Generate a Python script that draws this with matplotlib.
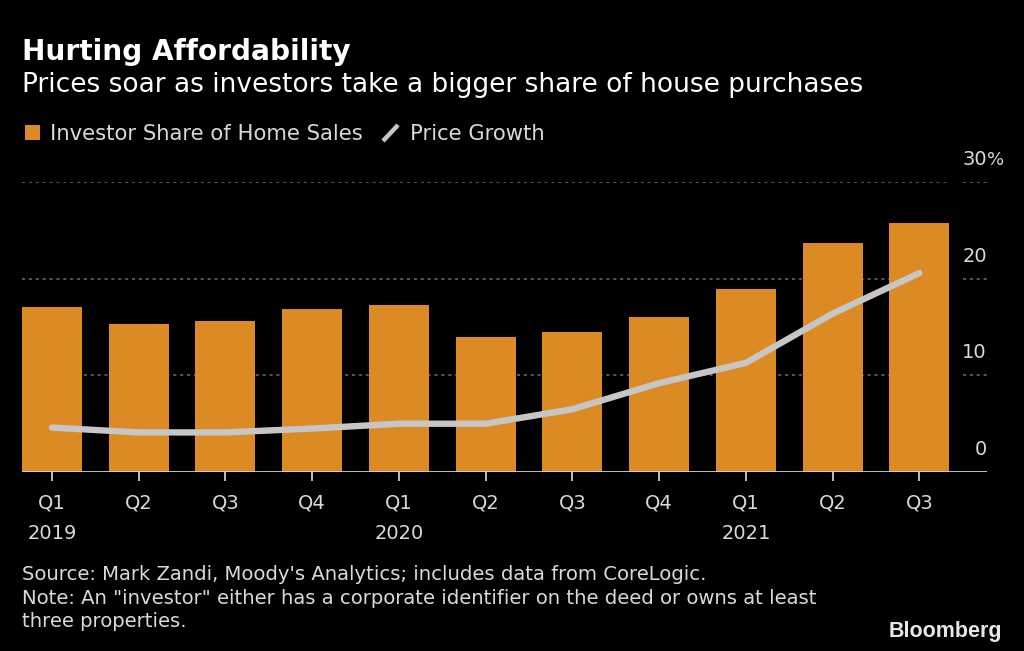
import matplotlib
matplotlib.use("Agg")
import matplotlib.pyplot as plt
from matplotlib.lines import Line2D
from matplotlib.patches import Rectangle

# ---- data ----
quarters = ["Q1", "Q2", "Q3", "Q4", "Q1", "Q2", "Q3", "Q4", "Q1", "Q2", "Q3"]
years = ["2019", "", "", "", "2020", "", "", "", "2021", "", ""]
investor_share = [17.1, 15.3, 15.6, 16.9, 17.3, 14.0, 14.5, 16.0, 18.9, 23.7, 25.8]
price_growth = [4.6, 4.1, 4.1, 4.5, 5.0, 5.0, 6.5, 9.2, 11.3, 16.4, 20.6]
y_ticks = [0, 10, 20, 30]
y_tick_labels = ["0", "10", "20", "30"]

BG = "#000000"
ORANGE = "#DB8A24"
LINEGRAY = "#C6C6C6"
TXT = "#D9D9D9"
FONT = "DejaVu Sans"

W, H = 1024, 651
fig = plt.figure(figsize=(W / 100, H / 100), dpi=100, facecolor=BG)

def fx(px):
    return px / W

def fy(py):
    return 1 - py / H

ax_left, ax_right, ax_bottom, ax_top = 22, 987, 472, 182.3
ax = fig.add_axes([fx(ax_left), fy(ax_bottom), fx(ax_right - ax_left), (ax_bottom - ax_top) / H])
ax.set_facecolor(BG)

x = list(range(len(quarters)))
bw = 0.69
ax.bar(x, investor_share, width=bw, color=ORANGE, zorder=2)
ax.plot(x, price_growth, color=LINEGRAY, lw=4.6, solid_capstyle="round",
        solid_joinstyle="round", zorder=3)

ax.set_xlim(-bw / 2, 10.78)
ax.set_ylim(0, 30)

# gridlines (dotted), split around the label column
for v in y_ticks[1:]:
    ax.axhline(v, xmin=0, xmax=0.9585, color="#6E6E6E", lw=1.1, ls=(0, (2, 2.5)), zorder=1)
    ax.axhline(v, xmin=0.975, xmax=1, color="#6E6E6E", lw=1.1, ls=(0, (2, 2.5)), zorder=1)
ax.axhline(0, color="#CFCFCF", lw=1.3, zorder=4)

for s in ax.spines.values():
    s.set_visible(False)

ax.set_yticks([])
ax.set_xticks(x)
ax.set_xticklabels(quarters, fontsize=14, color=TXT, family=FONT)
ax.tick_params(axis="x", length=6.5, width=1.3, color="#CFCFCF", pad=9)

for xi, yr in zip(x, years):
    if yr:
        ax.annotate(yr, xy=(xi, 0), xycoords="data", xytext=(0, -71),
                    textcoords="offset pixels", ha="center", va="bottom",
                    fontsize=14, color=TXT, family=FONT, annotation_clip=False)

# y labels on the right, above gridlines
for v, lab in zip(y_ticks, y_tick_labels):
    ax.annotate(lab, xy=(1, v), xycoords=("axes fraction", "data"), xytext=(0, 13),
                textcoords="offset pixels", ha="right", va="bottom",
                fontsize=14, color=TXT, family=FONT, annotation_clip=False)
ax.annotate("%", xy=(1, 30), xycoords=("axes fraction", "data"), xytext=(0, 13),
            textcoords="offset pixels", ha="left", va="bottom",
            fontsize=13, color=TXT, family=FONT, annotation_clip=False)

# titles
fig.text(fx(22), fy(60), "Hurting Affordability", fontsize=20.2, fontweight="bold",
         color="white", family=FONT, va="baseline", ha="left")
fig.text(fx(22), fy(92), "Prices soar as investors take a bigger share of house purchases",
         fontsize=19, color="white", family=FONT, va="baseline", ha="left")

# legend
fig.patches.append(Rectangle((fx(25), fy(140)), fx(15), 15 / H, transform=fig.transFigure,
                             facecolor=ORANGE, edgecolor="none"))
fig.text(fx(50), fy(140), "Investor Share of Home Sales", fontsize=15.2, color=TXT,
         family=FONT, va="baseline", ha="left")
fig.lines.append(Line2D([fx(383), fx(398)], [fy(141), fy(125)], transform=fig.transFigure,
                        color=LINEGRAY, lw=3.2, solid_capstyle="butt"))
fig.text(fx(410), fy(140), "Price Growth", fontsize=15.2, color=TXT,
         family=FONT, va="baseline", ha="left")

# footnotes
foot = ["Source: Mark Zandi, Moody's Analytics; includes data from CoreLogic.",
        "Note: An \"investor\" either has a corporate identifier on the deed or owns at least",
        "three properties."]
for i, line in enumerate(foot):
    fig.text(fx(22), fy(580 + 23.5 * i), line, fontsize=14.1, color=TXT, family=FONT,
             va="baseline", ha="left")

fig.text(fx(1002), fy(637), "Bloomberg", fontsize=15.5, fontweight="bold", color="#E6E6E6",
         family="Liberation Sans", va="baseline", ha="right")

fig.savefig("out.png", dpi=100, facecolor=BG)
